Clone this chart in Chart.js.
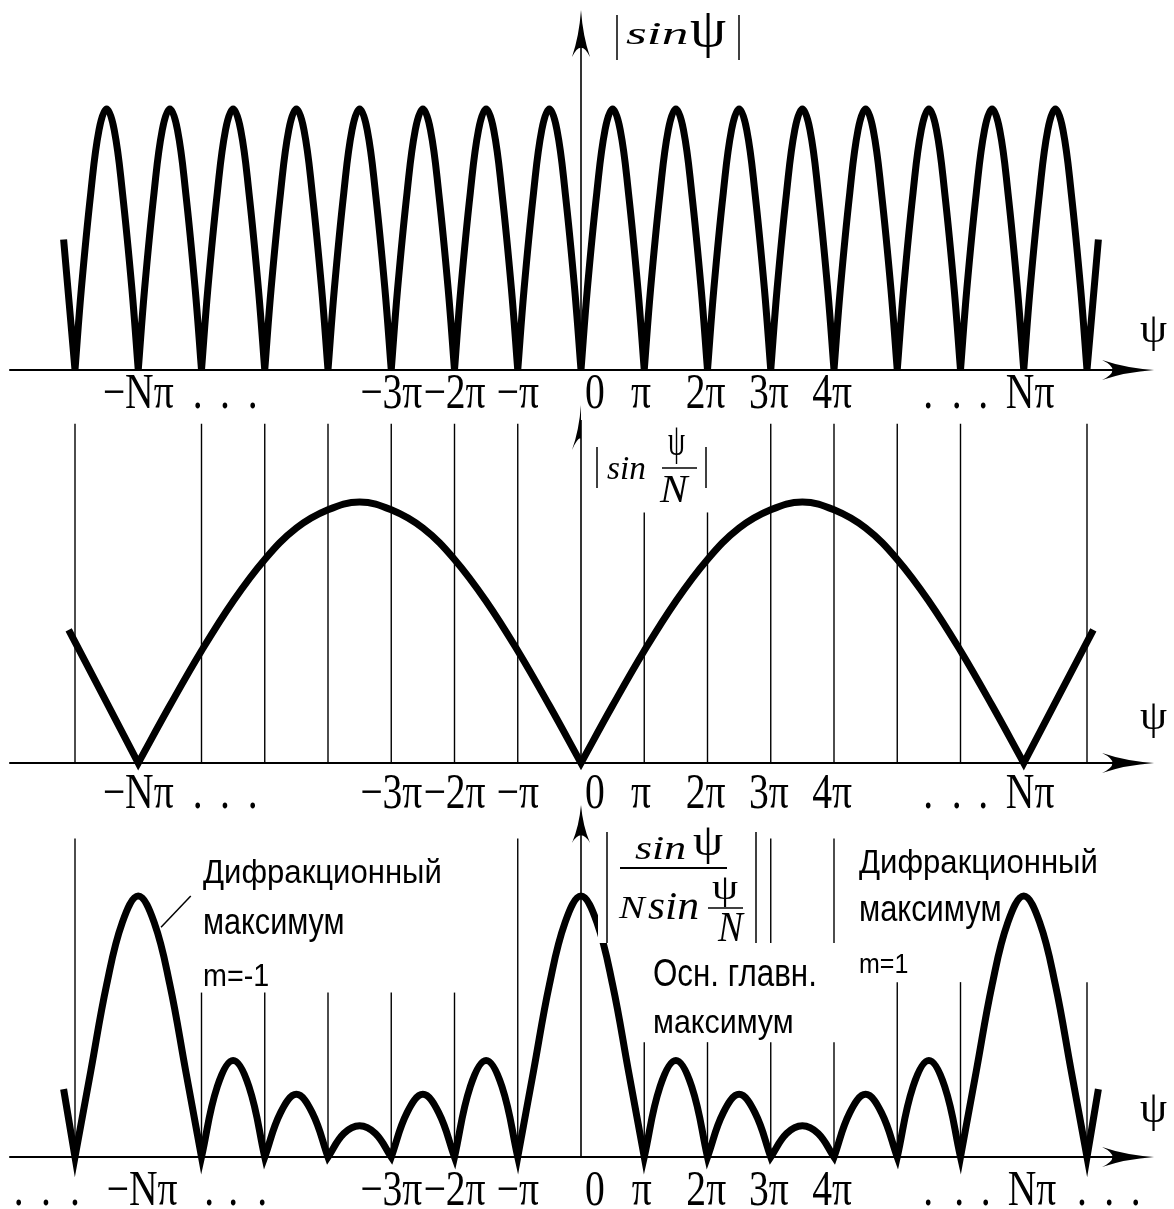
<!DOCTYPE html>
<html lang="ru">
<head>
<meta charset="utf-8">
<title>Дифракционная решётка</title>
<script src="https://cdn.jsdelivr.net/npm/chart.js@4.4.1/dist/chart.umd.min.js"></script>
<style>
    html, body { margin: 0; padding: 0; background: #fff; }
    #wrap { position: relative; width: 1174px; height: 1209px; }
    canvas { display: block; }
</style>
</head>
<body>
<div id="wrap"><canvas id="diagram" width="1174" height="1209"></canvas></div>
<script>
// All ψ values are in units of π, curve values are relative to the main maximum.

// Top panel |sin ψ|: one arch between neighbouring zeros
const sinArchStep = [0, 0.1, 0.25, 0.38, 0.5, 0.62, 0.75, 0.9, 1];
const sinArchValue = [0, 0.31, 0.68, 0.92, 1, 0.92, 0.68, 0.31, 0];
const sinArchStart = [-8, -7, -6, -5, -4, -3, -2, -1, 0, 1, 2, 3, 4, 5, 6, 7];
const sinEndPsi = [-8.18, 8.18];
const sinEndValue = [0.5, 0.5];

// Middle panel |sin(ψ/N)|, N = 7
const envPsi = [-8.1,
    -7, -6.5, -6, -5.5, -5, -4.5, -4, -3.5, -3, -2.5, -2, -1.5, -1, -0.5,
    0, 0.5, 1, 1.5, 2, 2.5, 3, 3.5, 4, 4.5, 5, 5.5, 6, 6.5,
    7, 8.1];
const envValue = [0.51,
    0, 0.22, 0.43, 0.62, 0.78, 0.9, 0.97, 1, 0.97, 0.9, 0.78, 0.62, 0.43, 0.22,
    0, 0.22, 0.43, 0.62, 0.78, 0.9, 0.97, 1, 0.97, 0.9, 0.78, 0.62, 0.43, 0.22,
    0, 0.51];

// Bottom panel |sin ψ / (N sin(ψ/N))|
const gratePsi = [-8.18,
    -8, -7.75, -7.5, -7.25, -7, -6.75, -6.5, -6.25,
    -6, -5.75, -5.5, -5.25,
    -5, -4.75, -4.5, -4.25,
    -4, -3.75, -3.5, -3.25,
    -3, -2.75, -2.5, -2.25,
    -2, -1.75, -1.5, -1.25,
    -1, -0.75, -0.5, -0.25,
    0, 0.25, 0.5, 0.75,
    1, 1.25, 1.5, 1.75,
    2, 2.25, 2.5, 2.75,
    3, 3.25, 3.5, 3.75,
    4, 4.25, 4.5, 4.75,
    5, 5.25, 5.5, 5.75,
    6, 6.25, 6.5, 6.75,
    7, 7.25, 7.5, 7.75,
    8, 8.18];
const grateValue = [0.26,
    0, 0.33, 0.66, 0.9, 1, 0.9, 0.66, 0.33,
    0, 0.27, 0.37, 0.27,
    0, 0.17, 0.24, 0.17,
    0, 0.09, 0.12, 0.09,
    0, 0.17, 0.24, 0.17,
    0, 0.27, 0.37, 0.27,
    0, 0.33, 0.66, 0.9,
    1, 0.9, 0.66, 0.33,
    0, 0.27, 0.37, 0.27,
    0, 0.17, 0.24, 0.17,
    0, 0.09, 0.12, 0.09,
    0, 0.17, 0.24, 0.17,
    0, 0.27, 0.37, 0.27,
    0, 0.33, 0.66, 0.9,
    1, 0.9, 0.66, 0.33,
    0, 0.26];

// Tick labels under the ψ axes
const tickAt = [-7, -3, -2, -1, 0.22, 0.95, 1.97, 2.97, 3.97, 7.1];
const tickText = ['−Nπ', '−3π', '−2π', '−π', '0', 'π', '2π', '3π', '4π', 'Nπ'];
const tickDots = [-6.06, -5.63, -5.19, 5.49, 5.94, 6.36];
const bottomTickAt = [-6.94, -3, -2, -1, 0.22, 0.96, 1.98, 2.97, 3.97, 7.13];
const bottomTickDots = [-8.89, -8.46, -8.0, -5.88, -5.5, -5.04, 5.49, 5.98, 6.4, 7.92, 8.35, 8.77];

// Thin verticals at multiples of π: [ψ, from, to]
const envGuides = [[-8, 0, 1.3], [-6, 0, 1.3], [-5, 0, 1.3], [-4, 0, 1.3], [-3, 0, 1.3], [-2, 0, 1.3], [-1, 0, 1.3],
    [1, 0, 0.96], [2, 0, 0.96], [3, 0, 1.3], [4, 0, 1.3], [5, 0, 1.3], [6, 0, 1.3], [8, 0, 1.3]];
const grateGuides = [[-8, 0, 1.22], [-6, 0, 0.63], [-5, 0, 0.63], [-4, 0, 0.63], [-3, 0, 0.63], [-2, 0, 0.63], [-1, 0, 1.22],
    [1, 0, 0.44], [2, 0, 0.44], [3, 0, 0.44], [3, 0.82, 1.22], [4, 0, 0.44], [4, 0.82, 1.22],
    [5, 0, 0.67], [6, 0, 0.67], [8, 0, 0.67]];

const SERIF = '"Liberation Serif", "DejaVu Serif", serif';
const TECH = '"Liberation Sans Narrow", "DejaVu Sans Condensed", "DejaVu Sans", sans-serif';

// zeros are cusps: repeating the point keeps the spline from rounding them
function curve(psi, value) {
    const pts = [];
    psi.forEach((p, i) => {
        pts.push({ x: p, y: value[i] });
        if (value[i] === 0 && i > 0 && i < psi.length - 1) pts.push({ x: p, y: 0 });
    });
    return pts;
}

function sinCurve() {
    const psi = [sinEndPsi[0]];
    const value = [sinEndValue[0]];
    sinArchStart.forEach((start, k) => {
        sinArchStep.forEach((step, j) => {
            if (j === 0 && k > 0) return; // zero shared with previous arch
            psi.push(start + step);
            value.push(sinArchValue[j]);
        });
    });
    psi.push(sinEndPsi[1]);
    value.push(sinEndValue[1]);
    return curve(psi, value);
}

// draw text so that its ink fills the box [x0, y0, x1, y1]
function inkText(ctx, text, font, box) {
    ctx.save();
    ctx.font = font;
    ctx.textAlign = 'left';
    ctx.textBaseline = 'alphabetic';
    const m = ctx.measureText(text);
    const w = m.actualBoundingBoxLeft + m.actualBoundingBoxRight;
    const h = m.actualBoundingBoxAscent + m.actualBoundingBoxDescent;
    ctx.translate(box[0], box[1]);
    ctx.scale((box[2] - box[0]) / w, (box[3] - box[1]) / h);
    ctx.fillText(text, m.actualBoundingBoxLeft, m.actualBoundingBoxAscent);
    ctx.restore();
}

function line(ctx, x0, y0, x1, y1, width) {
    ctx.lineWidth = width;
    ctx.beginPath();
    ctx.moveTo(x0, y0);
    ctx.lineTo(x1, y1);
    ctx.stroke();
}

function arrowRight(ctx, tx, ty, len, w) {
    ctx.beginPath();
    ctx.moveTo(tx, ty);
    ctx.quadraticCurveTo(tx - len * 0.55, ty - w * 0.2, tx - len, ty - w);
    ctx.quadraticCurveTo(tx - len * 0.6, ty, tx - len, ty + w);
    ctx.quadraticCurveTo(tx - len * 0.55, ty + w * 0.2, tx, ty);
    ctx.fill();
}

function arrowUp(ctx, tx, ty, len, w, leftOnly) {
    ctx.beginPath();
    ctx.moveTo(tx, ty);
    ctx.quadraticCurveTo(tx - w * 0.2, ty + len * 0.55, tx - w, ty + len);
    if (leftOnly) {
        ctx.quadraticCurveTo(tx - w * 0.3, ty + len * 0.7, tx, ty + len * 0.75);
    } else {
        ctx.quadraticCurveTo(tx, ty + len * 0.6, tx + w, ty + len);
        ctx.quadraticCurveTo(tx + w * 0.2, ty + len * 0.55, tx, ty);
    }
    ctx.closePath();
    ctx.fill();
}

function drawAxes(chart, yId, tipValue, arrowLen, leftOnly) {
    const ctx = chart.ctx;
    const x = chart.scales.x, y = chart.scales[yId];
    const x0 = x.getPixelForValue(0), y0 = y.getPixelForValue(0);
    const tip = x.getPixelForValue(9.06);
    line(ctx, x.getPixelForValue(-9.04), y0, tip - 20, y0, 2);
    arrowRight(ctx, tip, y0, 52, 10);
    const top = y.getPixelForValue(tipValue);
    line(ctx, x0, y0, x0, top + 15, 1.6);
    arrowUp(ctx, x0, top, arrowLen, 9, leftOnly);
}

function drawTicks(chart, yId, offset, at, text, dots) {
    const ctx = chart.ctx, x = chart.scales.x;
    const base = chart.scales[yId].getPixelForValue(0) + offset;
    ctx.save();
    ctx.font = '36px ' + SERIF;
    ctx.textAlign = 'center';
    ctx.textBaseline = 'alphabetic';
    const put = (s, v) => {
        ctx.save();
        ctx.translate(x.getPixelForValue(v), base);
        ctx.scale(1.1, 1.38);
        ctx.fillText(s, 0, 0);
        ctx.restore();
    };
    at.forEach((v, i) => put(text[i], v));
    dots.forEach(v => put('.', v));
    ctx.restore();
}

function drawGuides(chart, yId, guides) {
    const ctx = chart.ctx, x = chart.scales.x, y = chart.scales[yId];
    guides.forEach(g => {
        const px = x.getPixelForValue(g[0]);
        line(ctx, px, y.getPixelForValue(g[1]), px, y.getPixelForValue(g[2]), 1.4);
    });
}

const diagramPlugin = {
    id: 'diagram',
    beforeDraw(chart) {
        const ctx = chart.ctx;
        ctx.save();
        ctx.fillStyle = '#fff';
        ctx.fillRect(0, 0, chart.width, chart.height);
        ctx.restore();
    },
    beforeDatasetsDraw(chart) {
        const ctx = chart.ctx;
        ctx.save();
        ctx.strokeStyle = '#000';
        ctx.fillStyle = '#000';

        drawGuides(chart, 'y2', envGuides);
        drawGuides(chart, 'y3', grateGuides);

        drawAxes(chart, 'y1', 1.379, 47, false);
        drawAxes(chart, 'y2', 1.372, 45, true);
        drawAxes(chart, 'y3', 1.349, 38, false);

        drawTicks(chart, 'y1', 38, tickAt, tickText, tickDots);
        drawTicks(chart, 'y2', 45, tickAt, tickText, tickDots);
        drawTicks(chart, 'y3', 48, bottomTickAt, tickText, bottomTickDots);

        // ψ at the end of each axis
        inkText(ctx, 'ψ', '40px ' + SERIF, [1140, 317, 1167, 352]);
        inkText(ctx, 'ψ', '40px ' + SERIF, [1140, 704, 1167, 739]);
        inkText(ctx, 'ψ', '40px ' + SERIF, [1140, 1095, 1167, 1132]);

        // |sin ψ|
        line(ctx, 617, 15, 617, 60, 1.5);
        line(ctx, 739, 15, 739, 60, 1.5);
        inkText(ctx, 'sin', 'italic 40px ' + SERIF, [626, 23, 687, 44]);
        inkText(ctx, 'ψ', '40px ' + SERIF, [690, 13, 726, 58]);

        // |sin ψ/N|
        line(ctx, 597, 447, 597, 488, 1.5);
        line(ctx, 706, 447, 706, 488, 1.5);
        inkText(ctx, 'sin', 'italic 40px ' + SERIF, [607, 457, 645, 479]);
        inkText(ctx, 'ψ', '40px ' + SERIF, [668, 428, 685, 465]);
        line(ctx, 662, 468, 697, 468, 1.5);
        inkText(ctx, 'N', 'italic 40px ' + SERIF, [659, 476, 690, 502]);

        // annotations of the bottom panel
        inkText(ctx, 'Дифракционный', TECH, [203, 856, 440, 891]);
        inkText(ctx, 'максимум', TECH, [203, 912, 344, 943]);
        inkText(ctx, 'm=-1', TECH, [203, 962, 270, 986]);
        inkText(ctx, 'Дифракционный', TECH, [859, 845, 1096, 881]);
        inkText(ctx, 'максимум', TECH, [859, 900, 1001, 930]);
        inkText(ctx, 'm=1', TECH, [859, 952, 909, 973]);
        inkText(ctx, 'Осн. главн.', TECH, [653, 957, 816, 986]);
        inkText(ctx, 'максимум', TECH, [653, 1013, 793, 1041]);

        const x = chart.scales.x, y3 = chart.scales.y3;
        line(ctx, x.getPixelForValue(-6.64), y3.getPixelForValue(0.88),
            x.getPixelForValue(-6.17), y3.getPixelForValue(1.0), 1.5);
        ctx.restore();
    },
    afterDatasetsDraw(chart) {
        // formula of the bottom panel sits on a white patch over the curve
        const ctx = chart.ctx;
        ctx.save();
        ctx.fillStyle = '#fff';
        ctx.fillRect(598, 812, 162, 131);
        ctx.fillStyle = '#000';
        ctx.strokeStyle = '#000';
        line(ctx, 607, 832, 607, 943, 1.5);
        line(ctx, 756, 832, 756, 943, 1.5);
        inkText(ctx, 'sin', 'italic 40px ' + SERIF, [635, 837, 685, 859]);
        inkText(ctx, 'ψ', '40px ' + SERIF, [693, 828, 723, 865]);
        line(ctx, 620, 868, 727, 868, 2);
        inkText(ctx, 'N', 'italic 40px ' + SERIF, [618, 897, 647, 918]);
        inkText(ctx, 'sin', 'italic 40px ' + SERIF, [648, 893, 698, 919]);
        inkText(ctx, 'ψ', '40px ' + SERIF, [712, 878, 738, 907]);
        line(ctx, 708, 908, 743, 908, 1.5);
        inkText(ctx, 'N', 'italic 40px ' + SERIF, [717, 913, 745, 941]);
        ctx.restore();
    }
};

function curveDataset(points, yId) {
    return {
        data: points,
        yAxisID: yId,
        borderColor: '#000',
        borderWidth: 7,
        tension: 0.4,
        pointRadius: 0,
        pointHoverRadius: 0,
        fill: false,
        borderJoinStyle: 'miter',
        borderCapStyle: 'butt'
    };
}

// y scales share one canvas: 261 px per unit, zero lines at 370, 763 and 1157 px
function yScale(zeroPx) {
    return {
        type: 'linear',
        axis: 'y',
        display: false,
        min: -(1209 - zeroPx) / 261,
        max: zeroPx / 261
    };
}

document.addEventListener('DOMContentLoaded', function () {
    const ctx = document.getElementById('diagram').getContext('2d');
    new Chart(ctx, {
        type: 'line',
        data: {
            datasets: [
                curveDataset(sinCurve(), 'y1'),
                curveDataset(curve(envPsi, envValue), 'y2'),
                curveDataset(curve(gratePsi, grateValue), 'y3')
            ]
        },
        options: {
            responsive: false,
            animation: false,
            devicePixelRatio: 1,
            events: [],
            layout: { padding: 0 },
            plugins: {
                legend: { display: false },
                tooltip: { enabled: false }
            },
            scales: {
                x: { type: 'linear', display: false, min: -581 / 63.25, max: (1174 - 581) / 63.25 },
                y1: yScale(370),
                y2: yScale(763),
                y3: yScale(1157)
            }
        },
        plugins: [diagramPlugin]
    });
});
</script>
</body>
</html>
